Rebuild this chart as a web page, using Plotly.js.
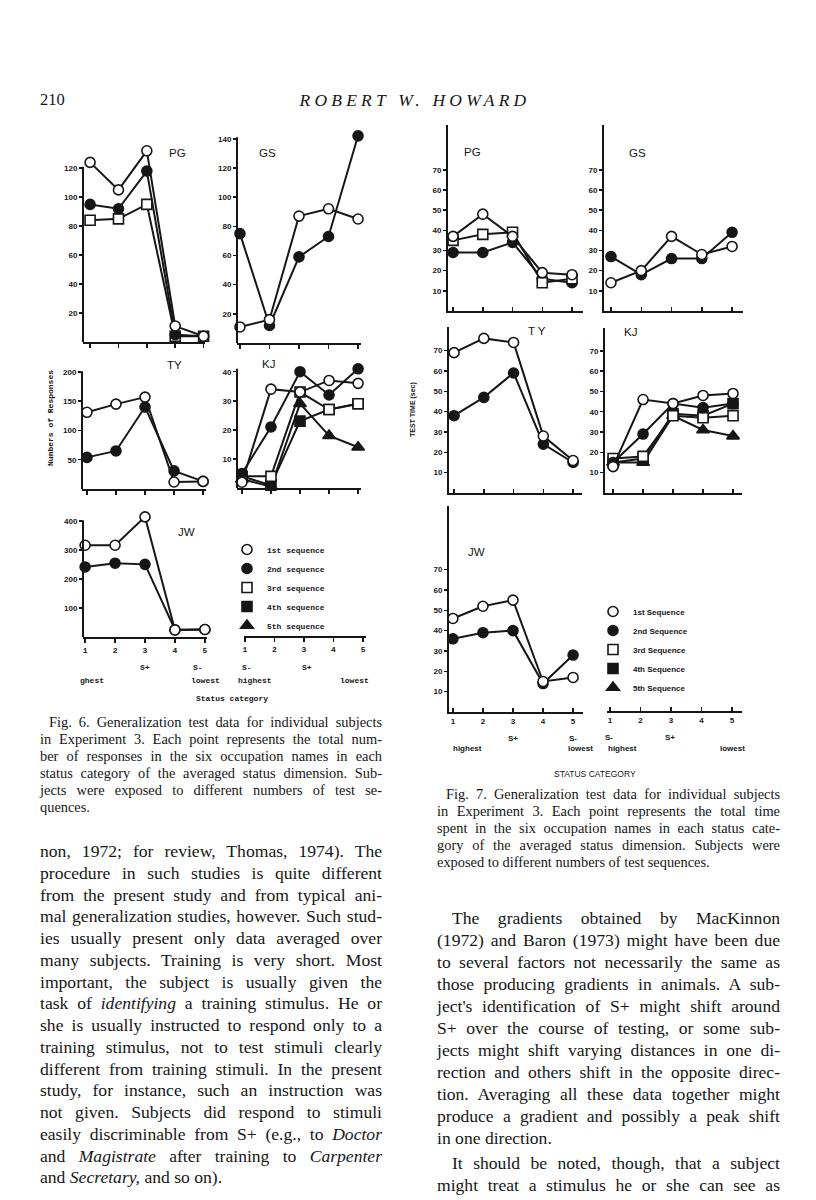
<!DOCTYPE html>
<html>
<head>
<meta charset="utf-8">
<script src="https://cdn.plot.ly/plotly-3.0.1.min.js"></script>
<style>
  body { margin: 0; background: #fff; }
  #page { position: relative; width: 816px; height: 1200px; overflow: hidden; }
  #chart { position: absolute; left: 0; top: 0; width: 816px; height: 1200px; }
  .blk { position: absolute; font-family: 'Liberation Serif', 'Times New Roman', serif; color: #161616; }
  .blk div { white-space: nowrap; text-align: justify; text-align-last: justify; }
  .blk div.end { text-align-last: left; }
  .body { font-size: 17.6px; }
  .cap { font-size: 14.4px; line-height: 17px; }
  .ind { padding-left: 9px; }
  .bind { padding-left: 15px; }
</style>
</head>
<body>
<div id="page">
  <div id="chart"></div>

  <div class="blk" style="left:40px; top:90px; font-size:16.5px; line-height:20px;">210</div>
  <div class="blk" style="left:250px; top:90px; width:330px; font-size:17.5px; line-height:20px; font-style:italic; letter-spacing:4.2px;"><div class="end" style="text-align:center; text-align-last:center;">ROBERT W. HOWARD</div></div>

  <div class="blk cap" style="left:40px; top:714px; width:342px;">
    <div class="ind">Fig. 6. Generalization test data for individual subjects</div>
    <div>in Experiment 3. Each point represents the total num-</div>
    <div>ber of responses in the six occupation names in each</div>
    <div>status category of the averaged status dimension. Sub-</div>
    <div>jects were exposed to different numbers of test se-</div>
    <div class="end">quences.</div>
  </div>

  <div class="blk cap" style="left:437px; top:786px; width:343px;">
    <div class="ind">Fig. 7. Generalization test data for individual subjects</div>
    <div>in Experiment 3. Each point represents the total time</div>
    <div>spent in the six occupation names in each status cate-</div>
    <div>gory of the averaged status dimension. Subjects were</div>
    <div class="end">exposed to different numbers of test sequences.</div>
  </div>

  <div class="blk body" style="left:40px; top:841px; width:342px; line-height:21.75px;">
    <div>non, 1972; for review, Thomas, 1974). The</div>
    <div>procedure in such studies is quite different</div>
    <div>from the present study and from typical ani-</div>
    <div>mal generalization studies, however. Such stud-</div>
    <div>ies usually present only data averaged over</div>
    <div>many subjects. Training is very short. Most</div>
    <div>important, the subject is usually given the</div>
    <div>task of <i>identifying</i> a training stimulus. He or</div>
    <div>she is usually instructed to respond only to a</div>
    <div>training stimulus, not to test stimuli clearly</div>
    <div>different from training stimuli. In the present</div>
    <div>study, for instance, such an instruction was</div>
    <div>not given. Subjects did respond to stimuli</div>
    <div>easily discriminable from S+ (e.g., to <i>Doctor</i></div>
    <div>and <i>Magistrate</i> after training to <i>Carpenter</i></div>
    <div class="end">and <i>Secretary,</i> and so on).</div>
  </div>

  <div class="blk body" style="left:437px; top:907px; width:343px; line-height:22px;">
    <div class="bind">The gradients obtained by MacKinnon</div>
    <div>(1972) and Baron (1973) might have been due</div>
    <div>to several factors not necessarily the same as</div>
    <div>those producing gradients in animals. A sub-</div>
    <div>ject's identification of S+ might shift around</div>
    <div>S+ over the course of testing, or some sub-</div>
    <div>jects might shift varying distances in one di-</div>
    <div>rection and others shift in the opposite direc-</div>
    <div>tion. Averaging all these data together might</div>
    <div>produce a gradient and possibly a peak shift</div>
    <div class="end">in one direction.</div>
  </div>
  <div class="blk body" style="left:437px; top:1152px; width:343px; line-height:22px;">
    <div class="bind">It should be noted, though, that a subject</div>
    <div>might treat a stimulus he or she can see as</div>
  </div>
</div>

<script>
// status categories on every x axis
var statusCats = [1, 2, 3, 4, 5];

// Fig. 6: numbers of responses
var f6PG1 = [124, 105, 132, 11, 4];
var f6PG2 = [95, 92, 118, 5, 4];
var f6PG3 = [84, 85, 95, 4, 4];
var f6GS1 = [11, 16, 87, 92, 85];
var f6GS2 = [75, 12, 59, 73, 142];
var f6TY1 = [131, 145, 157, 12, 13];
var f6TY2 = [54, 65, 140, 31, 13];
var f6KJ1 = [2, 34, 33, 37, 36];
var f6KJ2 = [5, 21, 40, 32, 41];
var f6KJ3 = [4, 4, 33, 27, 29];
var f6KJ4 = [4, 1, 23, 27, 29];
var f6KJ5 = [3, 0.5, 29, 18, 14];
var f6JW1 = [317, 317, 415, 24, 26];
var f6JW2 = [242, 255, 251, 25, 26];

// Fig. 7: test time (sec)
var f7PG1 = [37, 48, 37, 19, 18];
var f7PG2 = [29, 29, 34, 16, 14];
var f7PG3 = [35, 38, 39, 14, 16];
var f7GS1 = [14, 20, 37, 28, 32];
var f7GS2 = [27, 18, 26, 26, 39];
var f7TY1 = [69, 76, 74, 28, 16];
var f7TY2 = [38, 47, 59, 24, 15];
var f7KJ1 = [13, 46, 44, 48, 49];
var f7KJ2 = [15, 29, 44, 42, 44];
var f7KJ3 = [17, 18, 38, 37, 38];
var f7KJ4 = [15, 17, 39, 38, 44];
var f7KJ5 = [15, 15, 38, 31, 28];
var f7JW1 = [46, 52, 55, 15, 17];
var f7JW2 = [36, 39, 40, 14, 28];

// tick labels
var f6TicksPG = [20, 40, 60, 80, 100, 120];
var f6TicksGS = [20, 40, 60, 80, 100, 120, 140];
var f6TicksTY = [50, 100, 150, 200];
var f6TicksKJ = [10, 20, 30, 40];
var f6TicksJW = [100, 200, 300, 400];
var f7Ticks = [10, 20, 30, 40, 50, 60, 70];
var xTickText = ['1', '2', '3', '4', '5'];

var f6Seq = ['1st sequence', '2nd sequence', '3rd sequence', '4th sequence', '5th sequence'];
var f7Seq = ['1st Sequence', '2nd Sequence', '3rd Sequence', '4th Sequence', '5th Sequence'];

var W = 816, H = 1200;
var ink = '#161616';

var symbols = [
  {symbol: 'circle', fill: '#fff', size: 10},
  {symbol: 'circle', fill: ink, size: 10},
  {symbol: 'square', fill: '#fff', size: 10},
  {symbol: 'square', fill: ink, size: 10},
  {symbol: 'triangle-up', fill: ink, size: 11}
];

var sansB = {family: 'Liberation Sans, Arial, sans-serif', size: 8, color: ink, weight: 700};
var monoB = {family: 'Liberation Mono, monospace', size: 8, color: ink, weight: 700};
var titleF = {family: 'Liberation Sans, Arial, sans-serif', size: 11.5, color: ink};

// subplot boxes in page pixels
var panels = [
  {n: 1, fig: 6, l: 83, r: 205, t: 145, b: 342, xr: [0.75, 5.05], yr: [0, 136], ticks: f6TicksPG, top: 121},
  {n: 2, fig: 6, l: 237, r: 361, t: 130, b: 343, xr: [0.9, 5.1], yr: [0, 146], ticks: f6TicksGS, top: 141},
  {n: 3, fig: 6, l: 82, r: 206, t: 369, b: 489, xr: [0.83, 5.1], yr: [0, 205], ticks: f6TicksTY, top: 201},
  {n: 4, fig: 6, l: 237, r: 361, t: 363, b: 488, xr: [0.83, 5.1], yr: [0, 43], ticks: f6TicksKJ, top: 41},
  {n: 5, fig: 6, l: 83, r: 207, t: 514, b: 637, xr: [0.93, 5.07], yr: [0, 425], ticks: f6TicksJW, top: 403, labels: true},
  {n: 6, fig: 6, l: 244, r: 366, t: 630, b: 636, xr: [0.97, 5.1], labels: true},
  {n: 7, fig: 7, l: 448, r: 583, t: 125, b: 311, xr: [0.83, 5.37], yr: [0, 92.2], ticks: f7Ticks},
  {n: 8, fig: 7, l: 604, r: 743, t: 125, b: 311, xr: [0.77, 5.36], yr: [0, 92.2], ticks: f7Ticks},
  {n: 9, fig: 7, l: 449, r: 582, t: 327, b: 493, xr: [0.83, 5.3], yr: [0, 81.6], ticks: f7Ticks},
  {n: 10, fig: 7, l: 605, r: 742, t: 328, b: 493, xr: [0.73, 5.3], yr: [0, 81.2], ticks: f7Ticks},
  {n: 11, fig: 7, l: 449, r: 583, t: 506, b: 712, xr: [0.87, 5.33], yr: [0, 101.3], ticks: f7Ticks, labels: true},
  {n: 12, fig: 7, l: 607, r: 742, t: 705, b: 711, xr: [0.9, 5.33], labels: true}
];

function sfx(n) { return n === 1 ? '' : String(n); }

var layout = {
  width: W, height: H,
  margin: {l: 0, r: 0, t: 0, b: 0},
  paper_bgcolor: '#fff',
  plot_bgcolor: 'rgba(0,0,0,0)',
  showlegend: true,
  hovermode: false,
  annotations: [],
  shapes: [],
  legend: {
    x: 227 / W, xanchor: 'left', y: 1 - 535 / H, yanchor: 'top',
    bgcolor: 'rgba(0,0,0,0)', font: monoB
  },
  legend2: {
    x: 593 / W, xanchor: 'left', y: 1 - 597 / H, yanchor: 'top',
    bgcolor: 'rgba(0,0,0,0)', font: sansB
  }
};

panels.forEach(function (p) {
  var s = sfx(p.n);
  var f6 = p.fig === 6;
  layout['xaxis' + s] = {
    domain: [p.l / W, p.r / W], range: p.xr, anchor: 'y' + s,
    showgrid: false, zeroline: false, showline: true, linecolor: ink, linewidth: 2,
    tickvals: statusCats, ticktext: xTickText, ticks: f6 ? 'outside' : 'inside',
    ticklen: 4, tickwidth: 1.5, tickcolor: ink,
    showticklabels: !!p.labels, tickfont: f6 ? monoB : sansB, fixedrange: true
  };
  if (p.ticks) {
    layout['yaxis' + s] = {
      domain: [1 - p.b / H, 1 - p.t / H], range: p.yr, anchor: 'x' + s,
      showgrid: false, zeroline: false, showline: !f6, linecolor: ink, linewidth: 2,
      tickvals: p.ticks, ticks: 'outside', ticklen: 3, tickwidth: 1.5, tickcolor: ink,
      tickfont: sansB, fixedrange: true
    };
    if (f6) {
      // Fig. 6 axes stop at the top tick while points run past it
      layout.shapes.push({
        type: 'line', xref: 'x' + s + ' domain', x0: 0, x1: 0,
        yref: 'y' + s, y0: 0, y1: p.top, line: {color: ink, width: 2}
      });
    }
  } else {
    layout['yaxis' + s] = {
      domain: [1 - p.b / H, 1 - p.t / H], range: [0, 1], anchor: 'x' + s,
      visible: false, fixedrange: true
    };
  }
});

var data = [];
function series(n, y, seq) {
  var m = symbols[seq];
  data.push({
    x: statusCats, y: y, xaxis: 'x' + sfx(n), yaxis: 'y' + sfx(n),
    type: 'scatter', mode: 'lines+markers', cliponaxis: false, showlegend: false,
    line: {color: ink, width: 2},
    marker: {symbol: m.symbol, size: m.size, color: m.fill, line: {color: ink, width: 1.6}}
  });
}

series(1, f6PG3, 2); series(1, f6PG2, 1); series(1, f6PG1, 0);
series(2, f6GS2, 1); series(2, f6GS1, 0);
series(3, f6TY2, 1); series(3, f6TY1, 0);
series(4, f6KJ5, 4); series(4, f6KJ4, 3); series(4, f6KJ3, 2); series(4, f6KJ2, 1); series(4, f6KJ1, 0);
series(5, f6JW2, 1); series(5, f6JW1, 0);

series(7, f7PG2, 1); series(7, f7PG3, 2); series(7, f7PG1, 0);
series(8, f7GS2, 1); series(8, f7GS1, 0);
series(9, f7TY2, 1); series(9, f7TY1, 0);
series(10, f7KJ5, 4); series(10, f7KJ4, 3); series(10, f7KJ3, 2); series(10, f7KJ2, 1); series(10, f7KJ1, 0);
series(11, f7JW2, 1); series(11, f7JW1, 0);

// legend entries (marker only, no line)
function legendEntry(name, seq, legendId, n) {
  var m = symbols[seq];
  data.push({
    x: [null], y: [null], xaxis: 'x' + sfx(n), yaxis: 'y' + sfx(n),
    type: 'scatter', mode: 'markers', name: name, legend: legendId,
    marker: {symbol: m.symbol, size: m.size, color: m.fill, line: {color: ink, width: 1.6}}
  });
}
f6Seq.forEach(function (nm, i) { legendEntry(nm, i, 'legend', 6); });
f7Seq.forEach(function (nm, i) { legendEntry(nm, i, 'legend2', 12); });

function note(text, x, y, font, extra) {
  var a = {
    text: text, xref: 'paper', yref: 'paper', x: x / W, y: 1 - y / H,
    showarrow: false, xanchor: 'center', yanchor: 'middle', font: font
  };
  for (var k in extra) a[k] = extra[k];
  layout.annotations.push(a);
}

// panel names
note('PG', 177, 153, titleF); note('GS', 267, 153, titleF);
note('TY', 174, 365, titleF); note('KJ', 268, 364, titleF);
note('JW', 186, 532, titleF);
note('PG', 472, 152, titleF); note('GS', 637, 153, titleF);
note('T Y', 537, 331, titleF); note('KJ', 630, 332, titleF);
note('JW', 476, 552, titleF);

// axis names and status marks, Fig. 6
note('Numbers of Responses', 50, 418, monoB, {textangle: -90});
note('S+', 145, 667, monoB); note('S-', 198, 667, monoB);
note('ghest', 92, 680, monoB); note('lowest', 205, 680, monoB);
note('S-', 247, 667, monoB); note('S+', 307, 667, monoB);
note('highest', 255, 680, monoB); note('lowest', 354, 680, monoB);
note('Status category', 232, 698, monoB);

// Fig. 7
note('TEST TIME (sec)', 413, 410, {family: sansB.family, size: 7, color: ink, weight: 700}, {textangle: -90});
note('S+', 513, 738, sansB); note('S-', 573, 738, sansB);
note('highest', 467, 748, sansB); note('lowest', 580, 748, sansB);
note('S-', 609, 737, sansB); note('S+', 670, 737, sansB);
note('highest', 622, 748, sansB); note('lowest', 732, 748, sansB);
note('STATUS CATEGORY', 595, 774, {family: sansB.family, size: 8.5, color: ink});

Plotly.newPlot('chart', data, layout, {staticPlot: true, displayModeBar: false});
</script>
</body>
</html>
